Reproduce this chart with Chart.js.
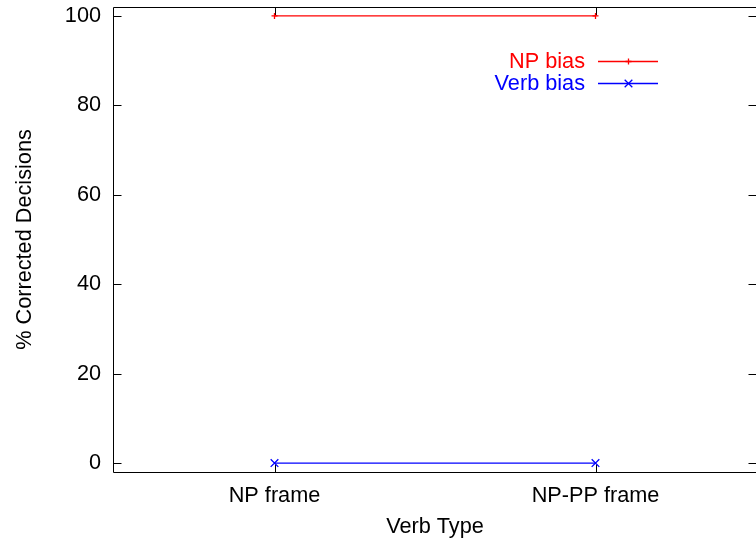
<!DOCTYPE html>
<html><head><meta charset="utf-8">
<script src="https://cdn.jsdelivr.net/npm/chart.js@4/dist/chart.umd.min.js"></script>
<style>html,body{margin:0;padding:0;background:#fff;overflow:hidden}canvas{display:block}</style>
</head><body><canvas id="c" width="756" height="544"></canvas>
<script>
const categories = ["NP frame", "NP-PP frame"];
const npBias = [100, 100];
const verbBias = [0, 0];
const yTickValues = [0, 20, 40, 60, 80, 100];
const seriesNames = ["NP bias", "Verb bias"];
const seriesColors = ["#ff0000", "#0000ff"];
const xTitle = "Verb Type";
const yTitle = "% Corrected Decisions";

const FAMILY = "'Liberation Sans', Arial, Helvetica, sans-serif";
const FSIZE = 21.7;
const TICKLEN = 8;
const LW = 1.3;

function drawMarker(ctx, style, x, y, r) {
  ctx.beginPath();
  if (style === 'cross') {
    ctx.moveTo(x - r, y); ctx.lineTo(x + r, y);
    ctx.moveTo(x, y - r); ctx.lineTo(x, y + r);
  } else {
    const d = r * Math.SQRT1_2;
    ctx.moveTo(x - d, y - d); ctx.lineTo(x + d, y + d);
    ctx.moveTo(x - d, y + d); ctx.lineTo(x + d, y - d);
  }
  ctx.stroke();
}

const framePlugin = {
  id: 'frame',
  beforeDatasetsDraw(chart) {
    const ctx = chart.ctx, a = chart.chartArea;
    const xs = chart.scales.x, ys = chart.scales.y;
    ctx.save();
    ctx.strokeStyle = '#000';
    ctx.lineWidth = 1;
    const L = Math.round(a.left) - 0.5, R = Math.round(a.right) + 0.5;
    const T = Math.round(a.top) + 0.5, B = Math.round(a.bottom) + 0.5;
    ctx.beginPath();
    ctx.rect(L, T, R - L, B - T);
    ctx.stroke();
    ctx.beginPath();
    ys.ticks.forEach(t => {
      const y = Math.round(ys.getPixelForValue(t.value)) + 0.5;
      ctx.moveTo(L, y); ctx.lineTo(L + TICKLEN, y);
      ctx.moveTo(R, y); ctx.lineTo(R - TICKLEN, y);
    });
    xs.ticks.forEach((t, i) => {
      const x = Math.round(xs.getPixelForTick(i)) + 0.5;
      ctx.moveTo(x, B); ctx.lineTo(x, B - TICKLEN);
      ctx.moveTo(x, T); ctx.lineTo(x, T + TICKLEN);
    });
    ctx.stroke();
    ctx.restore();
  },
  afterDraw(chart) {
    const ctx = chart.ctx;
    ctx.save();
    ctx.font = FSIZE + 'px ' + FAMILY;
    ctx.textAlign = 'right';
    ctx.textBaseline = 'middle';
    const rows = [61, 83];
    const styles = ['cross', 'crossRot'];
    const radii = [3, 5.4];
    seriesNames.forEach((name, i) => {
      const y = rows[i];
      const col = seriesColors[i];
      ctx.fillStyle = col;
      ctx.fillText(name, 585, y + 1);
      ctx.strokeStyle = col;
      ctx.lineWidth = LW;
      ctx.beginPath();
      ctx.moveTo(598, y + 0.5); ctx.lineTo(658, y + 0.5);
      ctx.stroke();
      drawMarker(ctx, styles[i], 628.5, y + 0.5, radii[i]);
    });
    ctx.restore();
  }
};

new Chart(document.getElementById('c'), {
  type: 'line',
  data: {
    labels: categories,
    datasets: [
      { label: seriesNames[0], data: npBias, borderColor: seriesColors[0], backgroundColor: seriesColors[0],
        borderWidth: LW, pointStyle: 'cross', pointRadius: 3, pointBorderWidth: LW, pointHoverRadius: 3, fill: false, tension: 0, clip: false },
      { label: seriesNames[1], data: verbBias, borderColor: seriesColors[1], backgroundColor: seriesColors[1],
        borderWidth: LW, pointStyle: 'crossRot', pointRadius: 5.4, pointBorderWidth: LW, pointHoverRadius: 5.4, fill: false, tension: 0, clip: false }
    ]
  },
  options: {
    responsive: false,
    maintainAspectRatio: false,
    animation: false,
    devicePixelRatio: 1,
    layout: { autoPadding: false, padding: { left: 0, right: -4, top: 7, bottom: 0 } },
    plugins: { legend: { display: false }, tooltip: { enabled: false } },
    scales: {
      x: {
        type: 'category',
        offset: true,
        grid: { display: false, drawTicks: false },
        border: { display: false },
        ticks: { color: '#000', font: { family: FAMILY, size: FSIZE }, padding: 11, maxRotation: 0, autoSkip: false },
        title: { display: true, text: xTitle, color: '#000', font: { family: FAMILY, size: FSIZE }, padding: { top: 0, bottom: 4 } },
        afterFit(s) { s.height = 72; s.paddingLeft = 0; s.paddingRight = 0; }
      },
      y: {
        type: 'linear',
        min: -2, max: 102,
        grid: { display: false, drawTicks: false },
        border: { display: false },
        ticks: { color: '#000', font: { family: FAMILY, size: FSIZE }, padding: 13 },
        afterBuildTicks(s) { s.ticks = yTickValues.map(v => ({ value: v })); },
        title: { display: true, text: yTitle, color: '#000', font: { family: FAMILY, size: FSIZE }, padding: { top: 12, bottom: 0 } },
        afterFit(s) { s.width = 114; s.paddingTop = 0; s.paddingBottom = 0; }
      }
    }
  },
  plugins: [framePlugin]
});
</script>
</body></html>
